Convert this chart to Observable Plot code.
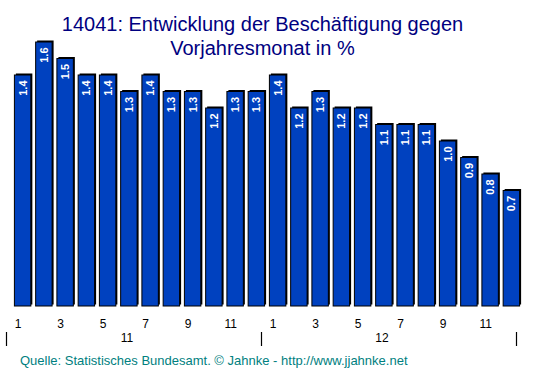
<!DOCTYPE html>
<html>
<head>
<meta charset="utf-8">
<script src="https://cdn.jsdelivr.net/npm/d3@7"></script>
<script src="https://cdn.jsdelivr.net/npm/@observablehq/plot@0.6"></script>
<style>
  html, body { margin: 0; padding: 0; background: #fff; }
  #wrap { position: relative; width: 553px; height: 376px; overflow: hidden; font-family: "Liberation Sans", Arial, sans-serif; }
  #chart { position: absolute; left: 0; top: 0; }
  #title { position: absolute; left: 0; top: 12px; width: 525px; text-align: center; color: #000080; font-size: 20px; line-height: 24px; }
  #source { position: absolute; left: 20px; top: 353px; color: #008080; font-size: 13px; line-height: 15px; white-space: nowrap; }
</style>
</head>
<body>
<div id="wrap">
  <div id="chart"></div>
  <div id="title">14041: Entwicklung der Beschäftigung gegen<br>Vorjahresmonat in %</div>
  <div id="source">Quelle: Statistisches Bundesamt. © Jahnke - http://www.jjahnke.net</div>
</div>
<script>
const months = [1,2,3,4,5,6,7,8,9,10,11,12,1,2,3,4,5,6,7,8,9,10,11,12];
const years = ["11", "12"];
const values = [1.4,1.6,1.5,1.4,1.4,1.3,1.4,1.3,1.3,1.2,1.3,1.3,1.4,1.2,1.3,1.2,1.2,1.1,1.1,1.1,1.0,0.9,0.8,0.7];

const data = values.map((v, i) => ({i, month: months[i], v}));
const yearData = years.map((y, k) => ({pos: k * 12 + 6, label: y}));
const seps = d3.range(years.length + 1).map(k => k * 12);

const chart = Plot.plot({
  width: 553,
  height: 376,
  marginTop: 42,
  marginBottom: 70,
  marginLeft: 12,
  marginRight: 31,
  x: {type: "linear", domain: [0, 24], axis: null},
  y: {domain: [0, 1.6], axis: null},
  style: {fontFamily: "'Liberation Sans', Arial, sans-serif", background: "transparent"},
  marks: [
    Plot.rectY(data, {x1: "i", x2: d => d.i + 1, y: "v", insetLeft: 2.4, insetRight: 2.4, fill: "black", dx: 1.5, dy: -1.5}),
    Plot.rectY(data, {x1: "i", x2: d => d.i + 1, y: "v", insetLeft: 2.4, insetRight: 2.4, fill: "#0041BF", stroke: "black", strokeWidth: 1}),
    Plot.text(data, {x: d => d.i + 0.5, y: "v", text: d => d.v.toFixed(1), rotate: -90, textAnchor: "end", dy: 5, fill: "white", fontWeight: "bold", fontSize: 11}),
    Plot.text(data.filter(d => d.month % 2 === 1), {x: d => d.i + 0.5, text: d => String(d.month), frameAnchor: "bottom", dy: 21, dx: -5, fontSize: 12, fill: "black"}),
    Plot.text(yearData, {x: "pos", text: "label", frameAnchor: "bottom", dy: 35, dx: -13, fontSize: 12, fill: "black"}),
    Plot.ruleX(seps, {x: d => d, y1: 0, y2: 0, insetTop: 26, insetBottom: -40, dx: -6, stroke: "black", strokeWidth: 1.2})
  ]
});
document.getElementById("chart").appendChild(chart);
</script>
</body>
</html>
